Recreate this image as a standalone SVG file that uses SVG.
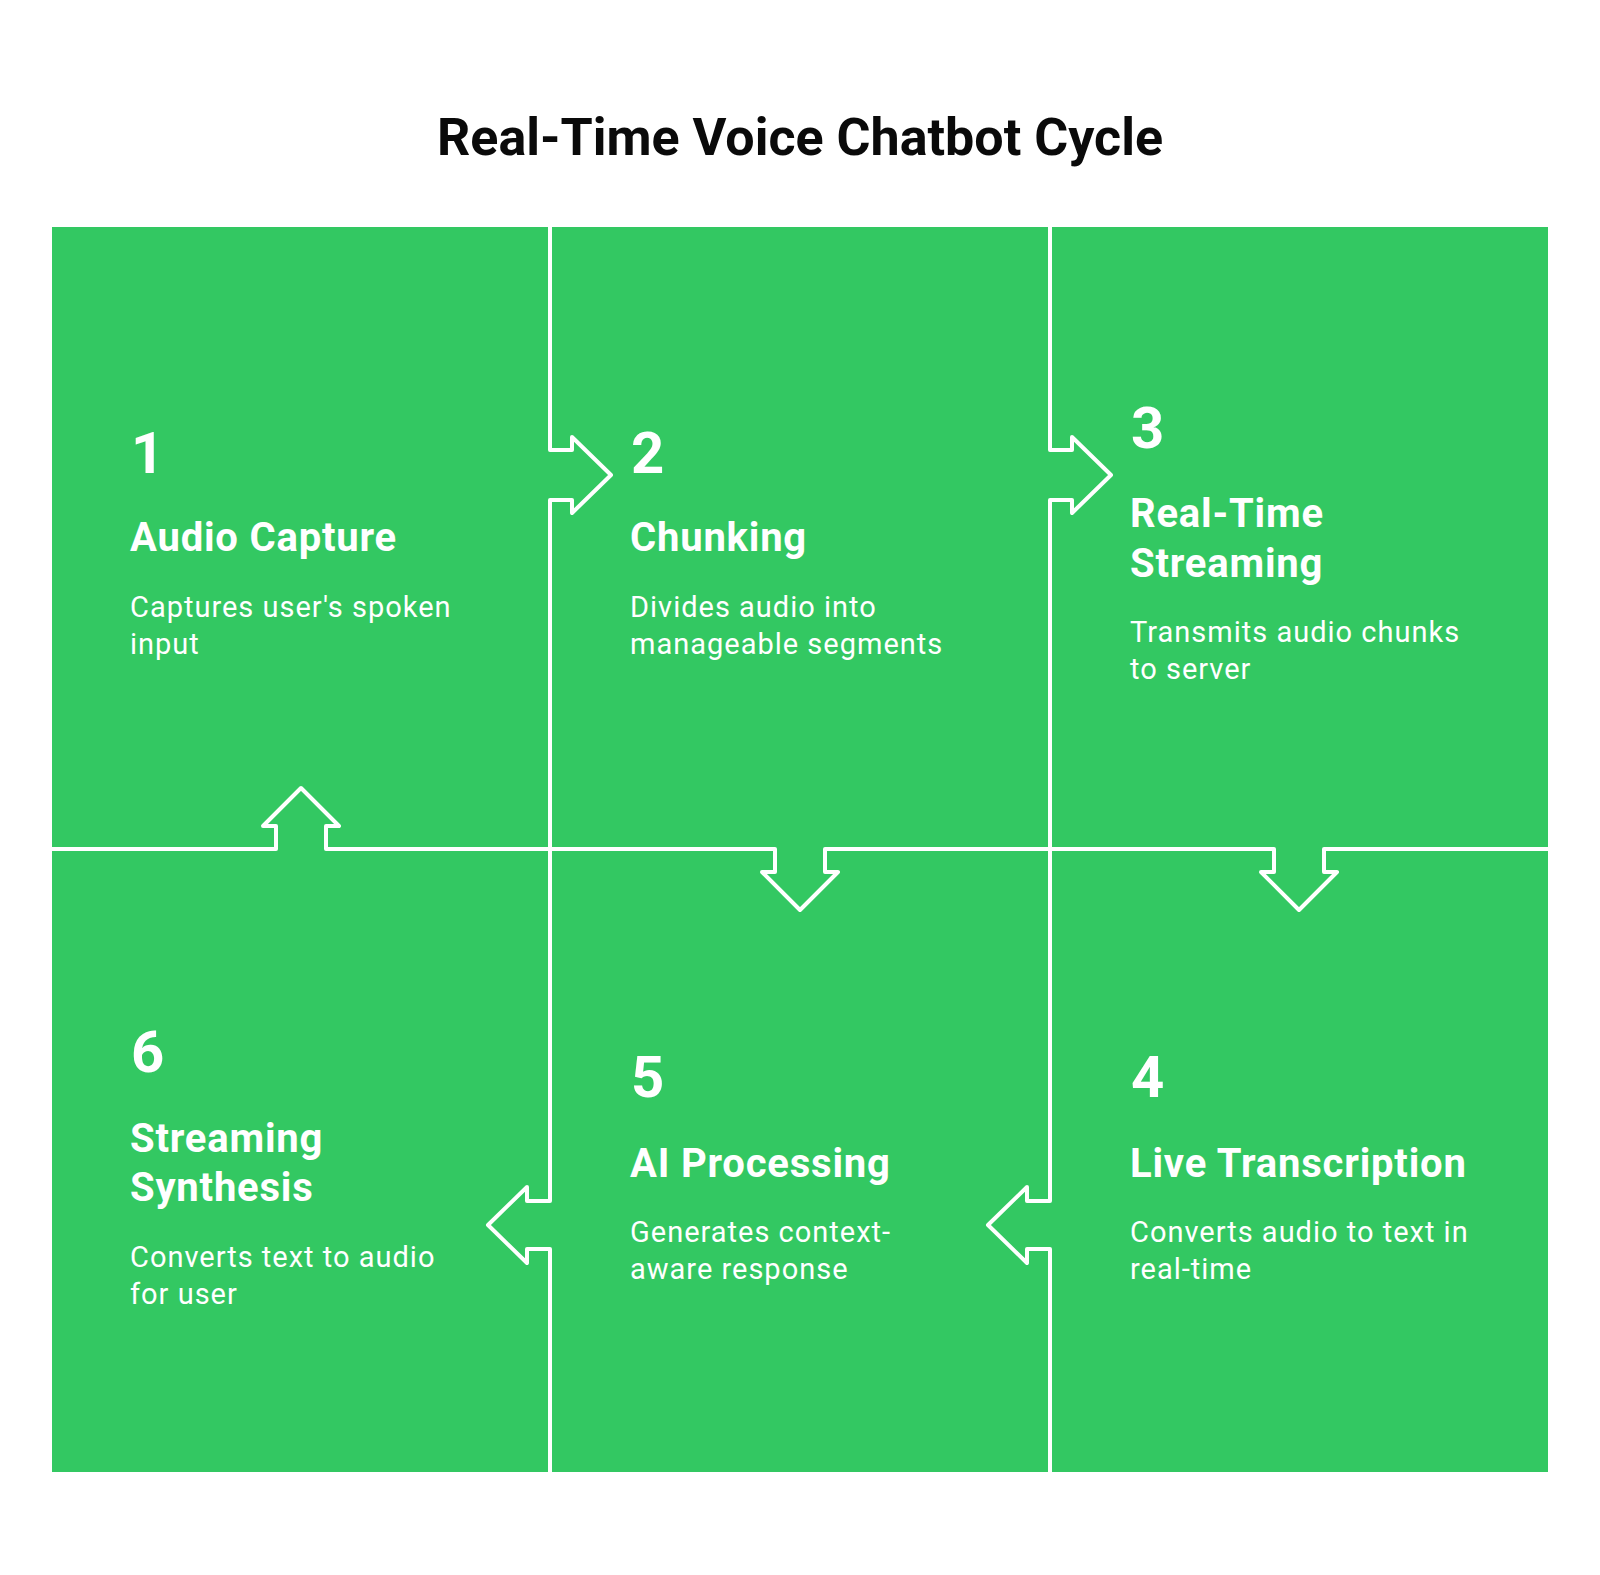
<svg xmlns="http://www.w3.org/2000/svg" width="1600" height="1575" viewBox="0 0 1600 1575">
<style>
.cell{fill:#33C862}
.num{font-family:Roboto,"Liberation Sans",sans-serif;font-weight:700;font-size:58px;fill:#fff}
.ttl{font-family:Roboto,"Liberation Sans",sans-serif;font-weight:700;font-size:40px;fill:#fff;letter-spacing:0.8px}
.dsc{font-family:Roboto,"Liberation Sans",sans-serif;font-weight:400;font-size:29px;fill:#fff;letter-spacing:1px}
.main{font-family:Roboto,"Liberation Sans",sans-serif;font-weight:700;font-size:52px;fill:#0a0a0a}
.div{fill:none;stroke:#fff;stroke-width:4;stroke-linejoin:round}
</style>
<rect width="1600" height="1575" fill="#fff"/>
<text class="main" x="800" y="155" text-anchor="middle">Real-Time Voice Chatbot Cycle</text>
<g id="node1">
<rect class="cell" x="52" y="227" width="498" height="622"/>
<text class="num" x="131" y="473">1</text>
<text class="ttl" x="130" y="551">Audio Capture</text>
<text class="dsc" x="130" y="617">Captures user's spoken</text>
<text class="dsc" x="130" y="654">input</text>
</g>
<g id="node2">
<rect class="cell" x="550" y="227" width="500" height="622"/>
<text class="num" x="631" y="473">2</text>
<text class="ttl" x="630" y="551">Chunking</text>
<text class="dsc" x="630" y="617">Divides audio into</text>
<text class="dsc" x="630" y="654">manageable segments</text>
</g>
<g id="node3">
<rect class="cell" x="1050" y="227" width="498" height="622"/>
<text class="num" x="1131" y="448">3</text>
<text class="ttl" x="1130" y="527">Real-Time</text>
<text class="ttl" x="1130" y="577">Streaming</text>
<text class="dsc" x="1130" y="642">Transmits audio chunks</text>
<text class="dsc" x="1130" y="679">to server</text>
</g>
<g id="node4">
<rect class="cell" x="1050" y="849" width="498" height="623"/>
<text class="num" x="1131" y="1097">4</text>
<text class="ttl" x="1130" y="1177">Live Transcription</text>
<text class="dsc" x="1130" y="1242">Converts audio to text in</text>
<text class="dsc" x="1130" y="1279">real-time</text>
</g>
<g id="node5">
<rect class="cell" x="550" y="849" width="500" height="623"/>
<text class="num" x="631" y="1097">5</text>
<text class="ttl" x="630" y="1177">AI Processing</text>
<text class="dsc" x="630" y="1242">Generates context-</text>
<text class="dsc" x="630" y="1279">aware response</text>
</g>
<g id="node6">
<rect class="cell" x="52" y="849" width="498" height="623"/>
<text class="num" x="131" y="1072">6</text>
<text class="ttl" x="130" y="1152">Streaming</text>
<text class="ttl" x="130" y="1201">Synthesis</text>
<text class="dsc" x="130" y="1267">Converts text to audio</text>
<text class="dsc" x="130" y="1304">for user</text>
</g>
<g id="connectors">
<path class="div" d="M550,227 V450 H572 V437 L611,475 L572,513 V500 H550 V1201 H527 V1187 L488,1225 L527,1263 V1249 H550 V1472"/>
<path class="div" d="M1050,227 V450 H1072 V437 L1111,475 L1072,513 V500 H1050 V1201 H1027 V1187 L988,1225 L1027,1263 V1249 H1050 V1472"/>
<path class="div" d="M52,849 H276 V826 H263 L301,788 L339,826 H326 V849 H775 V872 H762 L800,910 L838,872 H825 V849 H1274 V872 H1261 L1299,910 L1337,872 H1324 V849 H1548"/>
</g>
</svg>
